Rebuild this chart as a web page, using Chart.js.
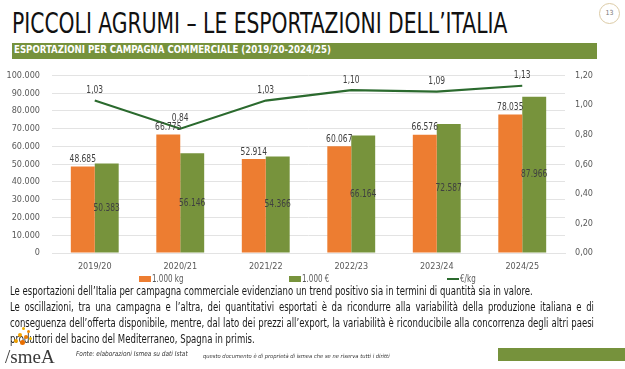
<!DOCTYPE html>
<html>
<head>
<meta charset="utf-8">
<script src="https://cdn.jsdelivr.net/npm/chart.js@4.4.1/dist/chart.umd.min.js"></script>
<style>
  body { margin: 0; width: 625px; height: 369px; overflow: hidden; background: #fff; position: relative; }
  .t { position: absolute; white-space: nowrap; transform-origin: 0 50%; }
  .p { font-size: 12.5px; line-height: 16px; color: #1a1a1a; left: 10px; }
  .dot { position: absolute; border-radius: 50%; }
</style>
</head>
<body>

<div id="title" class="t" data-w="495" style="left:12px; top:9px; font-size:29px; line-height:29px; color:#111;">PICCOLI AGRUMI – LE ESPORTAZIONI DELL’ITALIA</div>
<div class="t" style="left:599px; top:3px; width:19px; height:19px; border:1px solid #dccba6; border-radius:50%; font-size:7px; line-height:19px; text-align:center; color:#777;">13</div>

<div style="position:absolute; left:12px; top:43px; width:585px; height:16px; background:#76923c;"></div>
<div class="t" data-w="317" style="left:14px; top:43px; font-size:11px; line-height:14px; font-weight:bold; color:#fff;">ESPORTAZIONI PER CAMPAGNA COMMERCIALE (2019/20-2024/25)</div>

<div style="position:absolute; left:0; top:58px; width:625px; height:232px;">
  <canvas id="myChart"></canvas>
</div>

<div id="p1" class="t p" style="top:283px;">Le esportazioni dell’Italia per campagna commerciale evidenziano un trend positivo sia in termini di quantità sia in valore.</div>
<div id="p2" class="t p" style="top:299px;">Le oscillazioni, tra una campagna e l’altra, dei quantitativi esportati è da ricondurre alla variabilità della produzione italiana e di</div>
<div id="p3" class="t p" style="top:315px;">conseguenza dell’offerta disponibile, mentre, dal lato dei prezzi all’export, la variabilità è riconducibile alla concorrenza degli altri paesi</div>
<div id="p4" class="t p" style="top:331px;">produttori del bacino del Mediterraneo, Spagna in primis.</div>

<!-- logo -->
<span class="dot" style="left:22px; top:327px; width:3px; height:3px; background:#f5b400;"></span>
<span class="dot" style="left:27px; top:330px; width:3px; height:3px; background:#f08a00;"></span>
<span class="dot" style="left:18px; top:333px; width:4px; height:4px; background:#f5a300;"></span>
<span class="dot" style="left:24px; top:335px; width:4px; height:4px; background:#ee7d00;"></span>
<span class="dot" style="left:14px; top:339px; width:4px; height:4px; background:#f0a000;"></span>
<span class="dot" style="left:20px; top:340px; width:5px; height:5px; background:#e96f00;"></span>
<span class="dot" style="left:29px; top:337px; width:3px; height:3px; background:#f5c000;"></span>
<div class="t" data-w="50" style="left:5px; top:347px; font-family:'Liberation Serif',serif; font-size:19px; line-height:20px; color:#3a3a3a;">/smeA</div>

<div class="t" data-w="112" style="left:76px; top:349px; font-size:7px; line-height:10px; font-style:italic; color:#333;">Fonte: elaborazioni Ismea su dati Istat</div>
<div class="t" data-w="187" style="left:203px; top:352px; font-size:5.5px; line-height:8px; font-style:italic; color:#333;">questo documento è di proprietà di ismea che se ne riserva tutti i diritti</div>
<div style="position:absolute; left:498px; top:348px; width:127px; height:13px; background:#76923c;"></div>

<script>
// ── Data ──────────────────────────────────────────────────────────────────────
var categories   = ['2019/20', '2020/21', '2021/22', '2022/23', '2023/24', '2024/25'];
var seriesNames  = ['1.000 kg', '1.000 €', '€/kg'];
var volumeKg     = [48685, 66775, 52914, 60067, 66576, 78035];
var valueEur     = [50383, 56146, 54366, 66164, 72587, 87966];
var priceEurKg   = [1.03, 0.84, 1.03, 1.10, 1.09, 1.13];

var ORANGE = '#ed7d31';
var GREEN  = '#77933c';
var DARK   = '#2b6a2e';

// ── Font pick (narrow if available) ───────────────────────────────────────────
function hasFont(name) {
  var c = document.createElement('canvas').getContext('2d');
  var s = 'abcdefghijklmnopqrstuvwxyz0123456789';
  c.font = '40px monospace';
  var a = c.measureText(s).width;
  c.font = '40px "' + name + '", monospace';
  return c.measureText(s).width !== a;
}
var fonts = ['Liberation Sans Narrow', 'DejaVu Sans Condensed', 'Liberation Sans'];
var NF = 'sans-serif';
for (var f = 0; f < fonts.length; f++) { if (hasFont(fonts[f])) { NF = '"' + fonts[f] + '"'; break; } }
document.body.style.fontFamily = NF + ', sans-serif';

// horizontal squeeze so canvas digits get Arial Narrow widths
var mc = document.createElement('canvas').getContext('2d');
mc.font = '10px ' + NF;
var SX = Math.min(1, 45.6 / mc.measureText('0123456789').width);

// ── Fit texts to their widths ─────────────────────────────────────────────────
var fitted = document.querySelectorAll('[data-w]');
for (var k = 0; k < fitted.length; k++) {
  var el = fitted[k];
  el.style.transform = 'scaleX(' + (parseFloat(el.getAttribute('data-w')) / el.offsetWidth) + ')';
}
var p1 = document.getElementById('p1');
var pScale = 523 / p1.offsetWidth;
p1.style.transform = 'scaleX(' + pScale + ')';
document.getElementById('p4').style.transform = 'scaleX(' + pScale + ')';
['p2', 'p3'].forEach(function (id) {
  var el = document.getElementById(id);
  var s = Math.min(pScale, 584 / el.offsetWidth);
  el.style.width = (584 / s) + 'px';
  el.style.whiteSpace = 'normal';
  el.style.textAlign = 'justify';
  el.style.textAlignLast = 'justify';
  el.style.transform = 'scaleX(' + s + ')';
});

// ── Helpers ───────────────────────────────────────────────────────────────────
function fmtInt(v) { return String(Math.round(v)).replace(/\B(?=(\d{3})+(?!\d))/g, '.'); }
function fmtDec(v) { return v.toFixed(2).replace('.', ','); }
function narrowText(ctx, text, x, y) {
  ctx.save();
  ctx.translate(x, y);
  ctx.scale(SX, 1);
  ctx.fillText(text, 0, 0);
  ctx.restore();
}

// ── Plugins ───────────────────────────────────────────────────────────────────
var valueLabels = {
  id: 'valueLabels',
  afterDatasetsDraw: function (chart) {
    var ctx = chart.ctx;
    ctx.save();
    ctx.font = '10.5px ' + NF;
    ctx.fillStyle = '#404040';
    ctx.textAlign = 'center';
    ctx.textBaseline = 'middle';
    chart.data.datasets.forEach(function (ds, di) {
      var meta = chart.getDatasetMeta(di);
      meta.data.forEach(function (pt, i) {
        var v = ds.data[i];
        if (ds.type === 'line') narrowText(ctx, fmtDec(v), pt.x, pt.y - 10);
        else if (di === 0)      narrowText(ctx, fmtInt(v), pt.x, pt.y - 7);
        else                    narrowText(ctx, fmtInt(v), pt.x, (pt.y + pt.base) / 2);
      });
    });
    ctx.restore();
  }
};

var sparseLegend = {
  id: 'sparseLegend',
  afterDraw: function (chart) {
    var ctx = chart.ctx;
    var xs = [139, 289, 447];
    var y = 221;
    ctx.save();
    ctx.font = '10px ' + NF;
    ctx.textBaseline = 'middle';
    chart.data.datasets.forEach(function (ds, i) {
      if (ds.type === 'line') {
        ctx.strokeStyle = ds.borderColor;
        ctx.lineWidth = 2;
        ctx.beginPath(); ctx.moveTo(xs[i], y); ctx.lineTo(xs[i] + 12, y); ctx.stroke();
      } else {
        ctx.fillStyle = ds.backgroundColor;
        ctx.fillRect(xs[i], y - 3, 12, 6);
      }
      ctx.fillStyle = '#595959';
      narrowText(ctx, ds.label, xs[i] + 13, y);
    });
    ctx.restore();
  }
};

// ── Chart ─────────────────────────────────────────────────────────────────────
var tickFont = { family: NF, size: 9 };
new Chart(document.getElementById('myChart').getContext('2d'), {
  data: {
    labels: categories,
    datasets: [
      { type: 'bar', label: seriesNames[0], data: volumeKg, backgroundColor: ORANGE, yAxisID: 'y', order: 1,
        categoryPercentage: 0.56, barPercentage: 1 },
      { type: 'bar', label: seriesNames[1], data: valueEur, backgroundColor: GREEN, yAxisID: 'y', order: 1,
        categoryPercentage: 0.56, barPercentage: 1 },
      { type: 'line', label: seriesNames[2], data: priceEurKg, borderColor: DARK, borderWidth: 2.2,
        pointRadius: 0, tension: 0, yAxisID: 'y1', order: 0 }
    ]
  },
  options: {
    responsive: true,
    maintainAspectRatio: false,
    animation: false,
    layout: { padding: { top: 9, bottom: 15, left: 0, right: 0 } },
    plugins: { legend: { display: false }, tooltip: { enabled: false } },
    scales: {
      x: {
        grid: { display: false, drawTicks: false },
        border: { display: true, color: '#e3e3e3' },
        ticks: { color: '#595959', font: tickFont, padding: 8 },
        afterFit: function (s) { s.height = 22; }
      },
      y: {
        position: 'left', min: 0, max: 100000,
        grid: { color: '#e3e3e3', drawTicks: false },
        border: { display: false },
        ticks: { stepSize: 10000, color: '#595959', font: tickFont, padding: 12, callback: function (v) { return fmtInt(v); } },
        afterFit: function (s) { s.width = 52; }
      },
      y1: {
        position: 'right', min: 0, max: 1.2,
        grid: { display: false, drawTicks: false },
        border: { display: false },
        ticks: { stepSize: 0.2, color: '#595959', font: tickFont, padding: 10, callback: function (v) { return fmtDec(v); } },
        afterFit: function (s) { s.width = 60; }
      }
    }
  },
  plugins: [valueLabels, sparseLegend]
});
</script>
</body>
</html>
